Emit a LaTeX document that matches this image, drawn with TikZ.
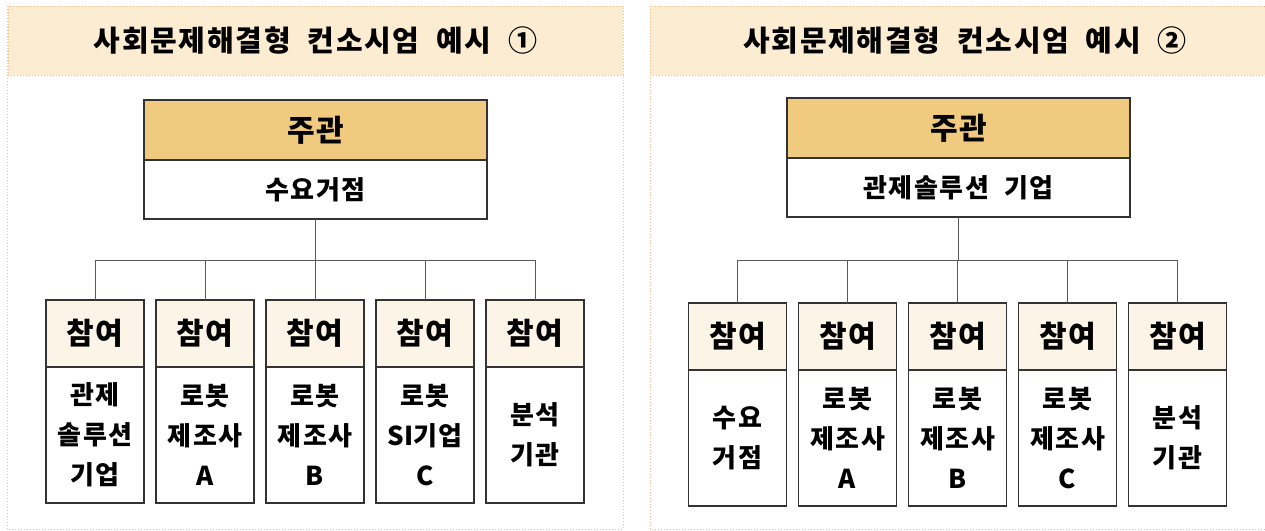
\documentclass[tikz,border=0pt]{standalone}
\usepackage{fontspec}
\setmainfont{Noto Sans CJK KR}[LetterSpace=6, WordSpace=2]
\usepackage{tikz}
\usetikzlibrary{positioning}
\definecolor{csband}{RGB}{252,236,209}
\definecolor{csdots}{RGB}{246,185,140}
\definecolor{csgold}{RGB}{240,202,126}
\definecolor{cscream}{RGB}{252,244,230}
\definecolor{csline}{RGB}{51,51,51}
\definecolor{csconn}{RGB}{90,90,90}
\tikzstyle{panelframe} = [draw=csdots, dotted, line width=1pt]
\tikzstyle{banner} = [rectangle, minimum width=615pt, minimum height=69pt, fill=csband, draw=csdots, dotted, line width=1pt, font=\fontsize{29}{35}\selectfont\bfseries]
\tikzstyle{leadhead} = [rectangle, minimum width=343pt, minimum height=60pt, draw=csline, fill=csgold, line width=1.5pt, outer sep=0pt, font=\fontsize{30}{36}\selectfont\bfseries]
\tikzstyle{leadbody} = [rectangle, minimum width=343pt, minimum height=59pt, draw=csline, fill=white, line width=1.5pt, outer sep=0pt, font=\fontsize{26}{32}\selectfont\bfseries]
\tikzstyle{parthead} = [rectangle, minimum width=98pt, minimum height=67pt, draw=csline, fill=cscream, line width=1.5pt, outer sep=0pt, font=\fontsize{30}{36}\selectfont\bfseries]
\tikzstyle{partbody} = [rectangle, minimum width=98pt, minimum height=136pt, align=center, draw=csline, fill=white, line width=1.5pt, outer sep=0pt, font=\fontsize{26}{40}\selectfont\bfseries]
\tikzstyle{link} = [draw=csconn, line width=1pt]

\begin{document}
\begin{tikzpicture}[x=1pt, y=1pt, node distance=110pt]
\useasboundingbox (0,0) rectangle (1265,-530);
\clip (0,0) rectangle (1265,-530);
\fill[white] (0,0) rectangle (1265,-530);

% example 1
\draw[panelframe] (7,-6) rectangle (623,-529);
\node (title1) [banner] at (315.5,-40.5) {사회문제해결형 컨소시엄 예시 ①};
\node (lead1) [leadhead] at (315.5,-130) {주관};
\node (lead1body) [leadbody, below=0pt of lead1] {수요거점};
\coordinate (hub1) at (315.5,-260);
\node (part11) [parthead] at (95,-333.5) {참여};
\node (part12) [parthead, right of=part11] {참여};
\node (part13) [parthead, right of=part12] {참여};
\node (part14) [parthead, right of=part13] {참여};
\node (part15) [parthead, right of=part14] {참여};
\node (part11body) [partbody, below=0pt of part11] {관제\\솔루션\\기업};
\node (part12body) [partbody, below=0pt of part12] {로봇\\제조사\\A};
\node (part13body) [partbody, below=0pt of part13] {로봇\\제조사\\B};
\node (part14body) [partbody, below=0pt of part14] {로봇\\{\addfontfeature{LetterSpace=0}SI}기업\\C};
\node (part15body) [partbody, below=0pt of part15] {분석\\기관};
\draw[link] (lead1body) -- (hub1);
\draw[link] (hub1) -| (part11.north);
\draw[link] (hub1) -| (part12.north);
\draw[link] (hub1) -| (part13.north);
\draw[link] (hub1) -| (part14.north);
\draw[link] (hub1) -| (part15.north);

% example 2
\draw[panelframe] (650,-6) rectangle (1280,-529);
\node (title2) [banner, minimum width=630pt] at (965,-40.5) {사회문제해결형 컨소시엄 예시 ②};
\node (lead2) [leadhead] at (958.5,-128) {주관};
\node (lead2body) [leadbody, below=0pt of lead2] {관제솔루션 기업};
\coordinate (hub2) at (958.5,-260);
\node (part21) [parthead] at (737.5,-336.5) {참여};
\node (part22) [parthead, right of=part21] {참여};
\node (part23) [parthead, right of=part22] {참여};
\node (part24) [parthead, right of=part23] {참여};
\node (part25) [parthead, right of=part24] {참여};
\node (part21body) [partbody, below=0pt of part21] {수요\\거점};
\node (part22body) [partbody, below=0pt of part22] {로봇\\제조사\\A};
\node (part23body) [partbody, below=0pt of part23] {로봇\\제조사\\B};
\node (part24body) [partbody, below=0pt of part24] {로봇\\제조사\\C};
\node (part25body) [partbody, below=0pt of part25] {분석\\기관};
\draw[link] (lead2body) -- (hub2);
\draw[link] (hub2) -| (part21.north);
\draw[link] (hub2) -| (part22.north);
\draw[link] (hub2) -| (part23.north);
\draw[link] (hub2) -| (part24.north);
\draw[link] (hub2) -| (part25.north);
\end{tikzpicture}
\end{document}
